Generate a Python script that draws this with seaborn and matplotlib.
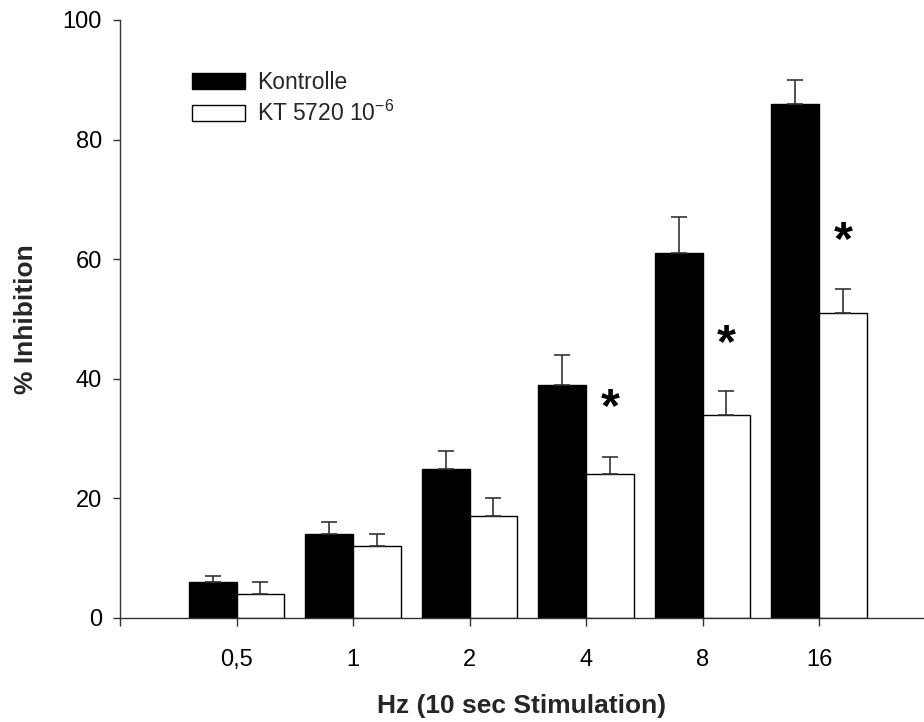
import matplotlib
matplotlib.use("Agg")
import matplotlib.pyplot as plt
import seaborn as sns
import pandas as pd
import numpy as np
from matplotlib.patches import Patch

categories = ["0,5", "1", "2", "4", "8", "16"]
kontrolle = [6, 14, 25, 39, 61, 86]
kontrolle_err = [1, 2, 3, 5, 6, 4]
kt5720 = [4, 12, 17, 24, 34, 51]
kt5720_err = [2, 2, 3, 3, 4, 4]
series_names = ["Kontrolle", "KT 5720 10$^{\\mathregular{-6}}$"]
star_groups = ["4", "8", "16"]
star_y = [32.9, 43.7, 60.9]

sns.set_theme(style="white")
plt.rcParams["font.family"] = ["Liberation Sans", "DejaVu Sans"]
plt.rcParams["mathtext.fontset"] = "custom"
plt.rcParams["mathtext.rm"] = "Liberation Sans"
plt.rcParams["mathtext.it"] = "Liberation Sans:italic"
plt.rcParams["mathtext.bf"] = "Liberation Sans:bold"

df = pd.DataFrame({
    "Hz": categories * 2,
    "value": kontrolle + kt5720,
    "series": [series_names[0]] * len(categories) + [series_names[1]] * len(categories),
})

W, H = 924, 722
fig = plt.figure(figsize=(W / 100, H / 100), dpi=100)
ax = fig.add_axes([120 / W, 1 - 618 / H, 804 / W, (618 - 20) / H])

width = 0.82
sns.barplot(data=df, x="Hz", y="value", hue="series", order=categories,
            hue_order=series_names, palette={series_names[0]: "black", series_names[1]: "white"},
            edgecolor="black", linewidth=1.0, width=width, saturation=1,
            errorbar=None, ax=ax, legend=False)

x = np.arange(len(categories))
off = width / 4
for xs, vals, errs in [(x - off, kontrolle, kontrolle_err), (x + off, kt5720, kt5720_err)]:
    ax.errorbar(xs, vals, yerr=[np.zeros(len(errs)), errs], fmt="none",
                ecolor="#333333", elinewidth=1.2, capsize=6.1, capthick=1.2, zorder=1)

for g, yv in zip(star_groups, star_y):
    ax.text(categories.index(g) + off, yv, "*", ha="center", va="baseline",
            fontsize=35, fontweight="bold", color="black")

ax.set_xlim(-1.0, 5.9)
ax.set_ylim(0, 100)
ax.set_yticks([0, 20, 40, 60, 80, 100])
ax.set_xticks(x)
ax.set_xticklabels(categories)
ax.set_xticks([-1.0], minor=True)
for s in ["top", "right"]:
    ax.spines[s].set_visible(False)
for s in ["left", "bottom"]:
    ax.spines[s].set_color("#333333")
    ax.spines[s].set_linewidth(1.0)
ax.tick_params(axis="both", which="both", direction="out", length=6, width=1.0,
               color="#333333", labelsize=17, labelcolor="black", left=True, bottom=True)
ax.tick_params(axis="y", length=5, pad=8)
ax.tick_params(axis="x", pad=16)

ax.set_xlabel("Hz (10 sec Stimulation)", fontsize=19, fontweight="bold", labelpad=17)
ax.set_ylabel("% Inhibition", fontsize=19, fontweight="bold", labelpad=18)

handles = [Patch(facecolor="black", edgecolor="black", linewidth=1.0),
           Patch(facecolor="white", edgecolor="black", linewidth=1.0)]
fig.legend(handles, series_names, loc="upper left", bbox_to_anchor=(192 / W, 1 - 71 / H),
           frameon=False, fontsize=16.5, handlelength=2.3, handleheight=0.75,
           handletextpad=0.55, labelspacing=0.3, borderpad=0, borderaxespad=0)

fig.savefig("out.png", dpi=100)
